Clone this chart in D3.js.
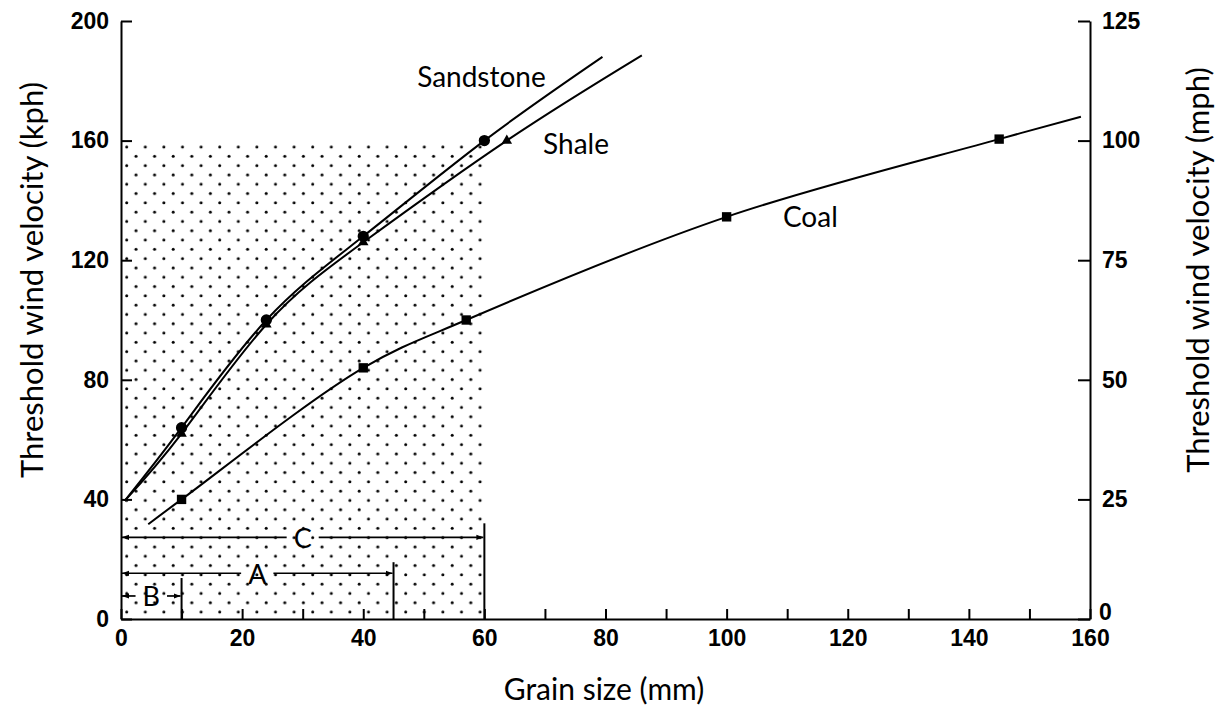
<!DOCTYPE html>
<html>
<head>
<meta charset="utf-8">
<script src="https://cdn.jsdelivr.net/npm/d3@7"></script>
<style>
  body { margin: 0; background: #fff; }
  svg { display: block; font-family: Lato, 'Open Sans', sans-serif; }
  .axis path, .axis line { stroke: #000; stroke-width: 2; }
  .axis text { font-size: 23px; font-weight: 700; fill: #000; }
</style>
</head>
<body>
<svg id="chart" width="1222" height="706"></svg>
<script>
// values: grain size (mm) vs threshold velocity (kph)
const sandstoneCurve = [[0.6, 39.5], [10, 64], [24, 100], [40, 128], [60, 160], [79.5, 188]];
const sandstonePoints = [[10, 64], [24, 100], [40, 128], [60, 160]];
const shaleCurve = [[0.6, 39.5], [10, 62], [24, 98.5], [40, 126], [63.7, 160], [86, 188.5]];
const shalePoints = [[10, 62], [24, 98.5], [40, 126], [63.7, 160]];
const coalCurve = [[4.5, 31.7], [10, 40], [40, 84], [57, 100], [100, 134.5], [145, 160.5], [158.5, 168]];
const coalPoints = [[10, 40], [40, 84], [57, 100], [100, 134.5], [145, 160.5]];

const xTicks = [0, 10, 20, 30, 40, 50, 60, 70, 80, 90, 100, 110, 120, 130, 140, 150, 160];
const kphTicks = [0, 40, 80, 120, 160, 200];
const mphTicks = [0, 25, 50, 75, 100, 125];

// size ranges along the bottom: upper grain size, line level (kph), bar top (kph)
const rangeNames = ['C', 'A', 'B'];
const rangeMax = [60, 45, 10];
const rangeLevel = [27.3, 15.3, 7.7];
const rangeBarTop = [32, 19, 13.7];

// stippled block: grain size 0-60 mm, velocity 0-160 kph
const stippleMax = [60, 160];

const seriesNames = ['Sandstone', 'Shale', 'Coal'];
const seriesLabelAt = [[48.9, 178], [69.7, 155.5], [109.3, 131]];

// ═══════════════════════════════════════════════
const svg = d3.select('#chart');
const x = d3.scaleLinear([0, 160], [121, 1090]);
const y = d3.scaleLinear([0, 200], [619, 21]);
const yMph = d3.scaleLinear([0, 125], [619, 21]);

// ── stipple pattern ──────────────────────────────
const tile = 18.6;
const defs = svg.append('defs');
const pat = defs.append('pattern')
  .attr('id', 'dots')
  .attr('patternUnits', 'userSpaceOnUse')
  .attr('width', tile).attr('height', tile)
  .attr('x', 126.7 - tile / 4).attr('y', 147 - tile / 4);
pat.append('circle').attr('cx', tile / 4).attr('cy', tile / 4).attr('r', 1.5).attr('fill', '#000');
pat.append('circle').attr('cx', tile * 3 / 4).attr('cy', tile * 3 / 4).attr('r', 1.5).attr('fill', '#000');

defs.append('marker')
  .attr('id', 'arrow')
  .attr('viewBox', '0 -4 8 8')
  .attr('refX', 8).attr('refY', 0)
  .attr('markerWidth', 7).attr('markerHeight', 7)
  .attr('markerUnits', 'userSpaceOnUse')
  .attr('orient', 'auto-start-reverse')
  .append('path').attr('d', 'M0,-3L8,0L0,3Z').attr('fill', '#000');

svg.append('rect')
  .attr('x', x(0)).attr('y', y(stippleMax[1]))
  .attr('width', x(stippleMax[0]) - x(0))
  .attr('height', y(0) - y(stippleMax[1]))
  .attr('fill', 'url(#dots)');

// ── axes ──────────────────────────────────────────
svg.append('g').attr('class', 'axis')
  .attr('transform', `translate(${x(0)},0)`)
  .call(d3.axisLeft(y).tickValues(kphTicks).tickSizeInner(-11).tickSizeOuter(0).tickPadding(12));

const right = svg.append('g').attr('class', 'axis')
  .attr('transform', `translate(${x(160)},0)`)
  .call(d3.axisRight(yMph).tickValues(mphTicks).tickSizeInner(-12).tickSizeOuter(0).tickPadding(12));
// the 0 mph label sits just above the 160 mm label
right.selectAll('.tick').filter(d => d === 0).select('text').attr('x', 9).attr('y', -7);

svg.append('g').attr('class', 'axis')
  .attr('transform', `translate(0,${y(0)})`)
  .call(d3.axisBottom(x).tickValues(xTicks).tickSizeInner(-10).tickSizeOuter(0).tickPadding(11)
    .tickFormat(d => d % 20 === 0 ? d : ''));

// axis titles
svg.append('text')
  .attr('transform', 'translate(31,280) rotate(-90)')
  .attr('text-anchor', 'middle').attr('dominant-baseline', 'central')
  .attr('font-size', 31)
  .text('Threshold wind velocity (kph)');

svg.append('text')
  .attr('transform', 'translate(1197,270) rotate(-90)')
  .attr('text-anchor', 'middle').attr('dominant-baseline', 'central')
  .attr('font-size', 31)
  .text('Threshold wind velocity (mph)');

svg.append('text')
  .attr('x', 604).attr('y', 700)
  .attr('text-anchor', 'middle')
  .attr('font-size', 30)
  .text('Grain size (mm)');

// ── size ranges C, A, B ──────────────────────────
rangeNames.forEach((name, i) => {
  const g = svg.append('g');
  const ly = y(rangeLevel[i]);
  const x0 = x(0), x1 = x(rangeMax[i]);
  const label = g.append('text')
    .attr('x', (x0 + x1) / 2).attr('y', ly)
    .attr('text-anchor', 'middle').attr('dominant-baseline', 'central')
    .attr('font-size', 27)
    .text(name);
  const half = label.node().getComputedTextLength() / 2 + 7;
  g.append('line')
    .attr('x1', (x0 + x1) / 2 - half).attr('x2', x0 + 1)
    .attr('y1', ly).attr('y2', ly)
    .attr('stroke', '#000').attr('stroke-width', 1.7)
    .attr('marker-end', 'url(#arrow)');
  g.append('line')
    .attr('x1', (x0 + x1) / 2 + half).attr('x2', x1 - 1)
    .attr('y1', ly).attr('y2', ly)
    .attr('stroke', '#000').attr('stroke-width', 1.7)
    .attr('marker-end', 'url(#arrow)');
  g.append('line')
    .attr('x1', x1).attr('x2', x1)
    .attr('y1', y(rangeBarTop[i])).attr('y2', y(0))
    .attr('stroke', '#000').attr('stroke-width', 2);
});

// ── curves ───────────────────────────────────────
const smooth = d3.line().x(d => x(d[0])).y(d => y(d[1])).curve(d3.curveNatural);
const bent = d3.line().x(d => x(d[0])).y(d => y(d[1])).curve(d3.curveCatmullRom.alpha(0.5));
[[sandstoneCurve, smooth], [shaleCurve, smooth], [coalCurve, bent]].forEach(([c, gen]) => {
  svg.append('path')
    .attr('d', gen(c))
    .attr('fill', 'none')
    .attr('stroke', '#000')
    .attr('stroke-width', 2);
});

const marks = [
  [sandstonePoints, d3.symbolCircle, 100],
  [shalePoints, d3.symbolTriangle, 48],
  [coalPoints, d3.symbolSquare, 88]
];
marks.forEach(([pts, type, size]) => {
  svg.append('g').selectAll('path')
    .data(pts)
    .join('path')
    .attr('transform', d => `translate(${x(d[0])},${y(d[1])})`)
    .attr('d', d3.symbol(type, size))
    .attr('fill', '#000');
});

// series labels
seriesNames.forEach((name, i) => {
  svg.append('text')
    .attr('x', x(seriesLabelAt[i][0])).attr('y', y(seriesLabelAt[i][1]))
    .attr('font-size', 28)
    .text(name);
});
</script>
</body>
</html>
